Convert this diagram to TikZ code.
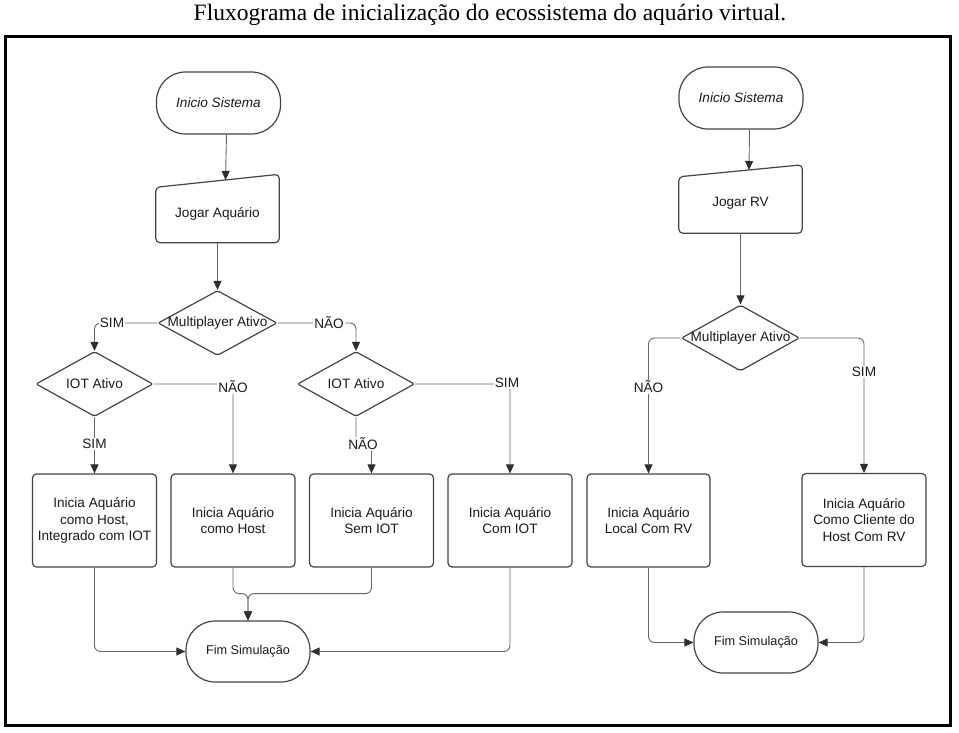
\documentclass[tikz,border=0pt]{standalone}
\usepackage{fontspec}
\setmainfont{Liberation Sans}
\newfontfamily\titlefont{Liberation Serif}
\usetikzlibrary{arrows.meta,shapes.geometric}
\definecolor{outl}{HTML}{444444}
\definecolor{lin}{HTML}{666666}
\definecolor{tipc}{HTML}{2E2E2E}
\definecolor{txt}{HTML}{1A1A1A}
\begin{document}
\begin{tikzpicture}[x=1pt,y=-1pt,
  every node/.style={font=\fontsize{13.6}{16.8}\selectfont, text=txt},
  shp/.style={draw=outl, fill=white, line width=1.2pt},
  term/.style={shp, rectangle, rounded corners=29pt, minimum width=124pt, minimum height=61pt, inner sep=0pt},
  proc/.style={shp, rectangle, rounded corners=4pt, minimum width=124pt, minimum height=93pt, align=center, inner sep=0pt},
  dec/.style={shp, diamond, rounded corners=2pt, minimum width=118pt, minimum height=65pt, inner sep=0pt},
  iobox/.style={rectangle, minimum width=123pt, minimum height=68pt, inner sep=0pt},
  conn/.style={draw=lin, line width=0.9pt, rounded corners=6pt},
  arr/.style={conn, -{Triangle[length=9pt,width=8pt,color=tipc]}},
  lbl/.style={fill=white, inner sep=1pt}
]
\useasboundingbox (0,0) rectangle (959,733);
\fill[white] (0,0) rectangle (959,733);

% title and frame
\node[font=\titlefont\fontsize{23.5}{27}\selectfont, text=black] (title) at (490,15) {Fluxograma de inicialização do ecossistema do aquário virtual.};
\draw[line width=3pt, black] (5.5,36.5) rectangle (950.5,725.5);

% ---------- left chart ----------
\node[term, minimum height=62pt] (ini1) at (218.5,103) {\itshape Inicio Sistema};
\node[iobox] (jogA) at (217.5,208.5) {};
\draw[shp, rounded corners=4pt] (jogA.south west) -- ([yshift=-13pt]jogA.north west) -- (jogA.north east) -- (jogA.south east) -- cycle;
\node (jogAt) at (217.5,214) {Jogar Aquário};

\node[dec, minimum width=119pt, label={center:Multiplayer Ativo}] (m1) at (217.5,323) {};
\node[dec, minimum width=117pt, label={center:IOT Ativo}] (iot1) at (94.5,384) {};
\node[dec, minimum width=117pt, label={center:IOT Ativo}] (iot2) at (356,384) {};

\node[proc] (box1) at (94.5,520.5) {Inicia Aquário\\como Host,\\Integrado com IOT};
\node[proc] (box2) at (233,520.5) {Inicia Aquário\\como Host};
\node[proc] (box3) at (371.5,520.5) {Inicia Aquário\\Sem IOT};
\node[proc] (box4) at (510,520.5) {Inicia Aquário\\Com IOT};

\node[term, font=\fontsize{12.7}{15}\selectfont] (fim1) at (248,651.5) {Fim Simulação};

\draw[arr] ([xshift=8pt]ini1.south) -- ([xshift=8pt,yshift=-5.6pt]jogA.north);
\draw[arr] (jogA.south) -- (m1.north);
\draw[arr] (m1.west) -| (iot1.north);
\draw[arr] (m1.east) -| (iot2.north);
\draw[arr] (iot1.east) -| (box2.north);
\draw[arr] (iot1.south) -- (box1.north);
\draw[arr] (iot2.south) -- ++(0,27) -| (box3.north);
\draw[arr] (iot2.east) -| (box4.north);
\draw[arr] (box1.south) |- (fim1.west);
\draw[arr] (box2.south) -- ++(0,26) -| (fim1.north);
\draw[arr] (box3.south) -- ++(0,26) -| (fim1.north);
\draw[arr] (box4.south) |- (fim1.east);

\node[lbl] (l1) at (112,323) {SIM};
\node[lbl] (l2) at (329,323) {NÃO};
\node[lbl] (l3) at (233,387) {NÃO};
\node[lbl] (l4) at (94.5,444) {SIM};
\node[lbl] (l5) at (363,444) {NÃO};
\node[lbl] (l6) at (507,383) {SIM};

% ---------- right chart ----------
\node[term, minimum height=62pt] (ini2) at (741,98) {\itshape Inicio Sistema};
\node[iobox] (jogR) at (740.5,199) {};
\draw[shp, rounded corners=4pt] (jogR.south west) -- ([yshift=-12pt]jogR.north west) -- (jogR.north east) -- (jogR.south east) -- cycle;
\node (jogRt) at (740.5,203) {Jogar RV};

\node[dec, minimum width=118pt, minimum height=66pt, label={center:Multiplayer Ativo}] (m2) at (740.5,338) {};

\node[proc, minimum width=123pt] (boxL) at (648.5,520.5) {Inicia Aquário\\Local Com RV};
\node[proc] (boxC) at (864,520) {Inicia Aquário\\Como Cliente do\\Host Com RV};

\node[term, font=\fontsize{12.7}{15}\selectfont] (fim2) at (756,642.5) {Fim Simulação};

\draw[arr] ([xshift=8.5pt]ini2.south) -- ([xshift=8.5pt,yshift=-5.2pt]jogR.north);
\draw[arr] (jogR.south) -- (m2.north);
\draw[arr] (m2.west) -| (boxL.north);
\draw[arr] (m2.east) -| (boxC.north);
\draw[arr] (boxL.south) |- (fim2.west);
\draw[arr] (boxC.south) |- (fim2.east);

\node[lbl] (l7) at (648.5,387) {NÃO};
\node[lbl] (l8) at (864,372) {SIM};
\end{tikzpicture}
\end{document}
